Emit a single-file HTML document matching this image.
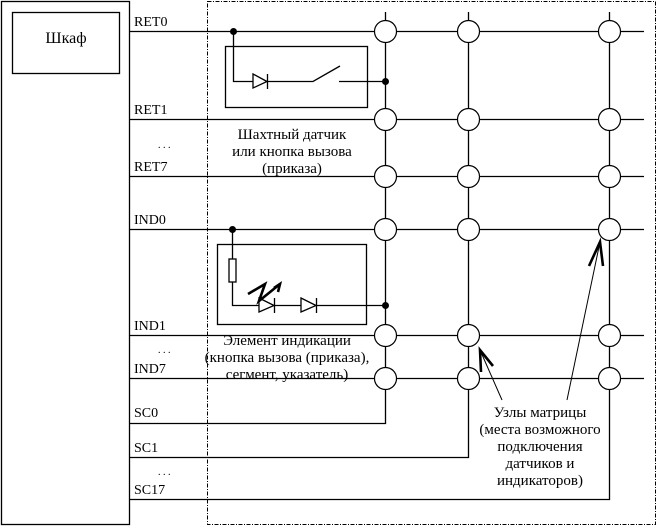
<!DOCTYPE html>
<html><head><meta charset="utf-8"><style>
html,body{margin:0;padding:0;background:#fff;}
svg{display:block;}
svg text{font-family:"Liberation Serif",serif;fill:#000;}
</style></head><body>
<svg width="660" height="527" xmlns="http://www.w3.org/2000/svg" font-family="Liberation Serif, serif">
<g stroke="#000" stroke-width="1.3" fill="none">
<rect x="1.5" y="1.5" width="128" height="523"/>
<rect x="12.5" y="12.5" width="107" height="61"/>
<rect x="207.5" y="1.5" width="448" height="523" stroke-dasharray="4,1.5,1,1.5" stroke-width="1"/>
<line x1="130" y1="31.5" x2="644" y2="31.5"/>
<line x1="130" y1="119.5" x2="644" y2="119.5"/>
<line x1="130" y1="176.5" x2="644" y2="176.5"/>
<line x1="130" y1="229.5" x2="644" y2="229.5"/>
<line x1="130" y1="335.5" x2="644" y2="335.5"/>
<line x1="130" y1="378.5" x2="644" y2="378.5"/>
<polyline points="130,423.5 385.5,423.5 385.5,12"/>
<polyline points="130,457.5 468.5,457.5 468.5,12"/>
<polyline points="130,499.5 609.5,499.5 609.5,12"/>
<rect x="225.5" y="46.5" width="142" height="61"/>
<polyline points="233.5,31.5 233.5,81.5 313,81.5 340,66"/>
<line x1="339" y1="81.5" x2="385" y2="81.5"/>
<polygon points="253,74 267,81.5 253,88" fill="#fff"/>
<line x1="267.5" y1="74" x2="267.5" y2="89"/>
<rect x="217.5" y="244.5" width="149" height="80"/>
<polyline points="232.5,229.5 232.5,259"/>
<rect x="229" y="259" width="7" height="23" fill="#fff"/>
<polyline points="232.5,282 232.5,305.5 385,305.5"/>
<polygon points="259,298 274,305.5 259,312" fill="#fff"/>
<line x1="274.5" y1="298" x2="274.5" y2="313"/>
<polygon points="301,298 316,305.5 301,312" fill="#fff"/>
<line x1="316.5" y1="298" x2="316.5" y2="313"/>
<polyline points="248,294 265,284 259,301 280,284" stroke-width="2.6"/>
<polyline points="274,288 280,284 278,292" stroke-width="2.6"/>
<line x1="502" y1="400" x2="480" y2="350" stroke-width="1"/>
<polyline points="481,372 480,350 493,366" stroke-width="2.6"/>
<line x1="567" y1="400" x2="600" y2="242" stroke-width="1"/>
<polyline points="589,266 600,242 603,266" stroke-width="2.6"/>
</g>
<g fill="#000">
<circle cx="233.5" cy="31.5" r="3.5"/>
<circle cx="385.5" cy="81.5" r="3.5"/>
<circle cx="232.5" cy="229.5" r="3.5"/>
<circle cx="385.5" cy="305.5" r="3.5"/>
</g>
<g stroke="#000" stroke-width="1.2" fill="#fff">
<circle cx="385.5" cy="31.5" r="11"/><circle cx="468.5" cy="31.5" r="11"/><circle cx="609.5" cy="31.5" r="11"/>
<circle cx="385.5" cy="119.5" r="11"/><circle cx="468.5" cy="119.5" r="11"/><circle cx="609.5" cy="119.5" r="11"/>
<circle cx="385.5" cy="176.5" r="11"/><circle cx="468.5" cy="176.5" r="11"/><circle cx="609.5" cy="176.5" r="11"/>
<circle cx="385.5" cy="229.5" r="11"/><circle cx="468.5" cy="229.5" r="11"/><circle cx="609.5" cy="229.5" r="11"/>
<circle cx="385.5" cy="335.5" r="11"/><circle cx="468.5" cy="335.5" r="11"/><circle cx="609.5" cy="335.5" r="11"/>
<circle cx="385.5" cy="378.5" r="11"/><circle cx="468.5" cy="378.5" r="11"/><circle cx="609.5" cy="378.5" r="11"/>
</g>
<g font-size="14">
<text x="66" y="43" text-anchor="middle" font-size="16">Шкаф</text>
<text x="134" y="26">RET0</text>
<text x="134" y="114">RET1</text>
<text x="134" y="171">RET7</text>
<text x="134" y="224">IND0</text>
<text x="134" y="330">IND1</text>
<text x="134" y="373">IND7</text>
<text x="134" y="417">SC0</text>
<text x="134" y="452">SC1</text>
<text x="134" y="494">SC17</text>
<text x="158" y="148" font-size="10">. . .</text>
<text x="158" y="353" font-size="10">. . .</text>
<text x="158" y="475" font-size="10">. . .</text>
</g>
<g font-size="15" text-anchor="middle">
<text x="292" y="139">Шахтный датчик</text>
<text x="292" y="156">или кнопка вызова</text>
<text x="292" y="173">(приказа)</text>
<text x="287" y="345">Элемент индикации</text>
<text x="287" y="362">(кнопка вызова (приказа),</text>
<text x="287" y="379">сегмент, указатель)</text>
<text x="540" y="417">Узлы матрицы</text>
<text x="540" y="434">(места возможного</text>
<text x="540" y="451">подключения</text>
<text x="540" y="468">датчиков и</text>
<text x="540" y="485">индикаторов)</text>
</g>
</svg>
</body></html>
